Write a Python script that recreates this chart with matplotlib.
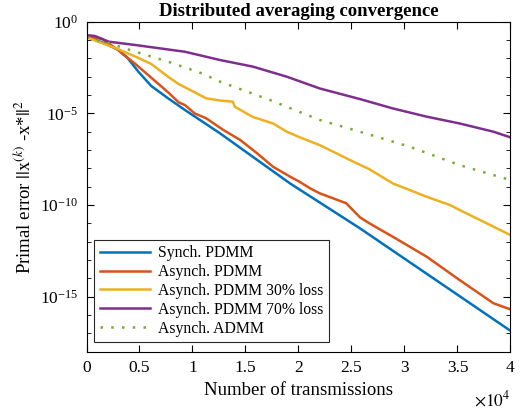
import numpy as np
import matplotlib
matplotlib.use('Agg')
import matplotlib.pyplot as plt
from matplotlib.ticker import FuncFormatter, NullFormatter

plt.rcParams['font.family'] = ['Liberation Serif', 'DejaVu Serif']
plt.rcParams['mathtext.fontset'] = 'stix'
plt.rcParams['axes.unicode_minus'] = False

# values: x in transmissions, y as log10 of the error
sync_x = [0, 1700, 3000, 3900, 4900, 6100, 7700, 9300, 12600, 19200, 25800, 40000]
sync_y = [-0.80, -1.18, -1.54, -2.00, -2.73, -3.50, -4.18, -4.82, -6.09, -8.82, -11.27, -16.86]

async_x = [0, 1500, 3000, 4600, 6100, 7700, 8700, 9300, 10200, 11300, 12900, 14500,
           16100, 17600, 19200, 20100, 21100, 22000, 24500, 25800, 26700, 28900,
           32100, 35200, 38400, 40000]
async_y = [-0.80, -0.95, -1.55, -2.30, -3.05, -3.85, -4.40, -4.55, -5.00, -5.27, -5.90, -6.45,
           -7.18, -7.91, -8.45, -8.73, -9.09, -9.36, -9.90, -10.67, -11.00, -11.73,
           -12.82, -14.09, -15.36, -15.69]

loss30_x = [0, 1400, 3000, 4600, 6100, 7700, 8700, 9800, 11300, 12600, 13800, 14000,
            15700, 16100, 17600, 18900, 20100, 22000, 25200, 26700, 28900, 32100,
            34300, 35200, 38400, 40000]
loss30_y = [-0.85, -1.15, -1.50, -1.90, -2.30, -3.00, -3.40, -3.73, -4.18, -4.30, -4.36, -4.64,
            -5.20, -5.27, -5.55, -6.00, -6.30, -6.73, -7.64, -8.05, -8.82, -9.55,
            -10.00, -10.27, -11.18, -11.64]

loss70_x = [0, 800, 2100, 4600, 9300, 12600, 15700, 18900, 22000, 25800, 28900, 32100,
            35200, 38400, 40000]
loss70_y = [-0.73, -0.78, -1.09, -1.27, -1.64, -2.09, -2.45, -3.00, -3.64, -4.22, -4.73, -5.18,
            -5.55, -6.00, -6.31]

admm_x = [0, 2000, 4300, 7700, 10900, 12600, 17300, 22000, 25800, 30500, 35200, 40000]
admm_y = [-0.85, -1.15, -1.58, -2.18, -2.82, -3.27, -4.27, -5.36, -6.00, -6.82, -7.82, -8.64]

labels = ['Synch. PDMM', 'Asynch. PDMM', 'Asynch. PDMM 30% loss',
          'Asynch. PDMM 70% loss', 'Asynch. ADMM']
colors = ['#0072BD', '#D95319', '#EDB120', '#7E2F8E', '#77AC30']

fig = plt.figure(figsize=(5.23, 4.12), dpi=100, facecolor='white')
ax = fig.add_axes([0.1654, 0.1464, 0.8106, 0.8009])

series = [(sync_x, sync_y), (async_x, async_y), (loss30_x, loss30_y),
          (loss70_x, loss70_y), (admm_x, admm_y)]
for (xs, ys), lab, c in zip(series, labels, colors):
    ls = (0, (1, 3.3)) if lab == 'Asynch. ADMM' else '-'
    ax.semilogy(xs, 10.0 ** np.array(ys), linestyle=ls, color=c, lw=1.8, label=lab)

ax.set_xlim(0, 40000)
ax.set_ylim(1e-18, 1)
ax.set_xticks(np.arange(0, 40001, 5000))
ax.xaxis.set_major_formatter(FuncFormatter(lambda v, _: f'{v/1e4:g}'))
ax.set_yticks([1e-15, 1e-10, 1e-5, 1])
ax.set_yticks([10.0 ** k for k in range(-18, 1)], minor=True)
ax.yaxis.set_minor_formatter(NullFormatter())

ax.tick_params(which='both', direction='in', top=True, right=True, labelsize=12.5, pad=6)
ax.tick_params(which='major', length=5)
ax.tick_params(which='minor', length=3)
for s in ax.spines.values():
    s.set_linewidth(0.8)

ax.set_xlabel('Number of transmissions', fontsize=13.5)
ax.set_ylabel(r'Primal error $||\mathrm{x}^{(k)}$ -x*$||^2$', fontsize=13.5)
ax.set_title('Distributed averaging convergence', fontsize=13.5, fontweight='bold', pad=4)
ax.text(1.0, -0.115, r'$\times10^4$', transform=ax.transAxes, ha='right', va='top', fontsize=12.5)

leg = ax.legend(loc='lower left', fontsize=11.3, handlelength=3.2, fancybox=False,
                edgecolor='#262626', framealpha=1, borderpad=0.35, labelspacing=0.18,
                handletextpad=0.5, borderaxespad=0, bbox_to_anchor=(0.018, 0.029))
leg.get_frame().set_linewidth(0.8)

fig.savefig('out.png', dpi=100)
